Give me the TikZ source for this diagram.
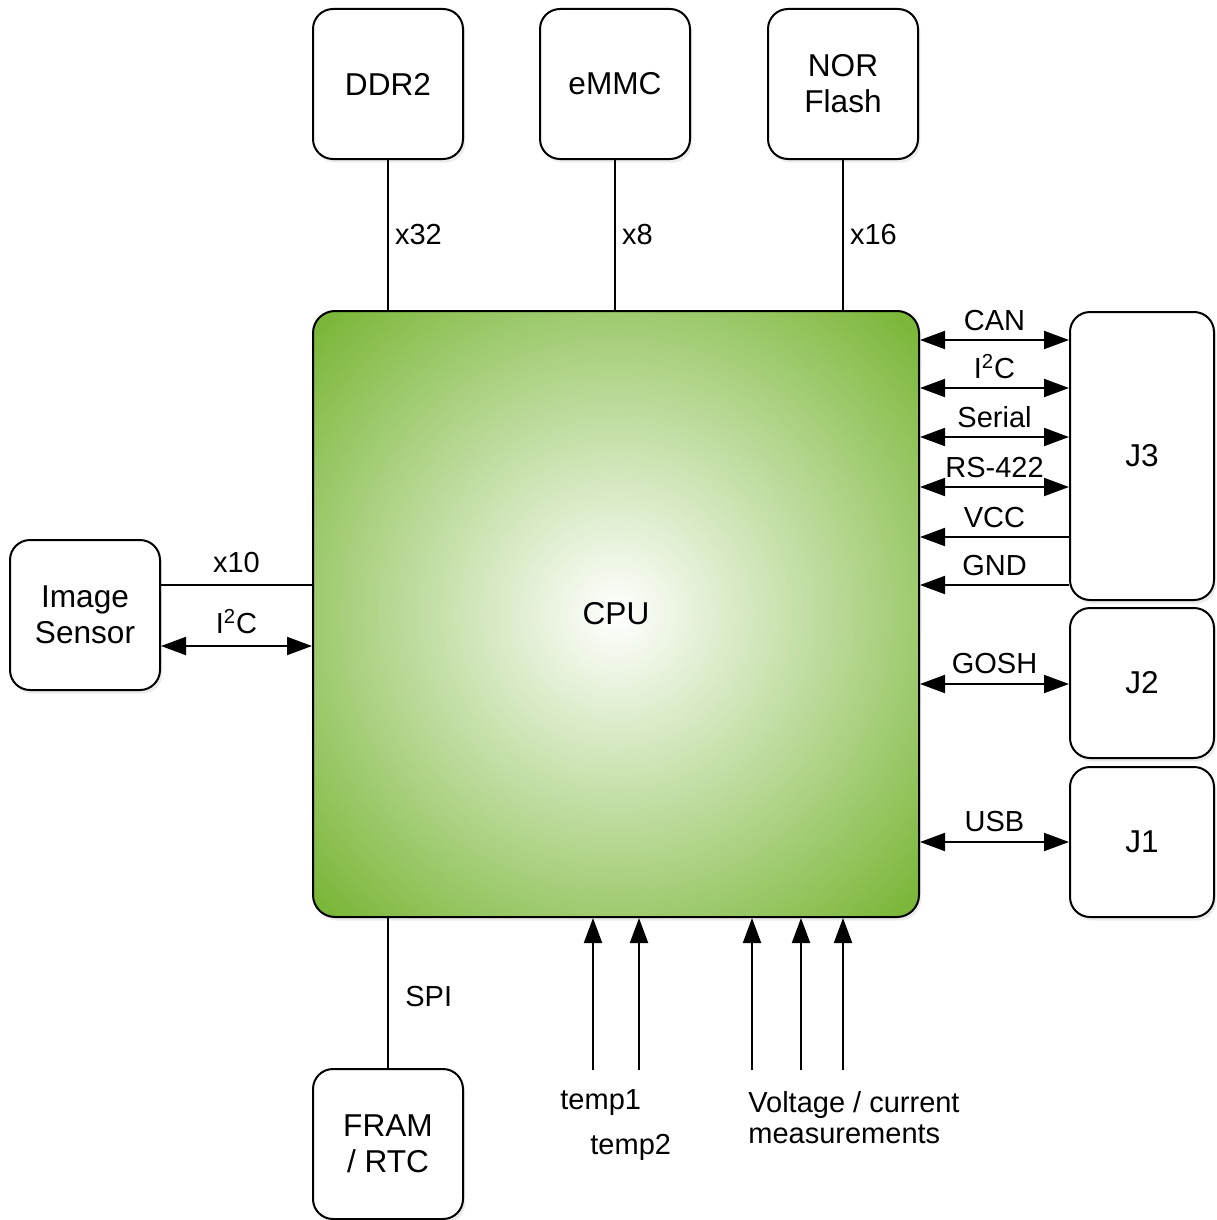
\documentclass[tikz,border=0pt]{standalone}
\usepackage{fontspec}
\setmainfont{Liberation Sans}
\usetikzlibrary{arrows.meta,shadows}
\definecolor{cpugreen}{RGB}{118,180,50}
\pgfdeclareradialshading{cpushade}{\pgfpoint{0bp}{0bp}}{color(0bp)=(white); color(35.4bp)=(cpugreen); color(50bp)=(cpugreen)}
\begin{document}
\begin{tikzpicture}[x=0.5pt,y=-0.5pt,
  box/.style={draw, line width=1pt, rounded corners=10pt, fill=white, align=center,
    inner sep=0pt, font=\fontsize{15.8}{18}\selectfont,
    drop shadow={shadow xshift=1.2pt, shadow yshift=-1.8pt, opacity=0.15}},
  lbl/.style={font=\fontsize{14.5}{15.5}\selectfont, inner sep=0pt},
  wire/.style={line width=1pt},
  arr/.style={wire, -{Triangle[length=12.5pt,width=9pt]}},
  barr/.style={wire, {Triangle[length=12.5pt,width=9pt]}-{Triangle[length=12.5pt,width=9pt]}}
]
\useasboundingbox (0,0) rectangle (1216,1220);

% boxes
\node[box, minimum width=75pt, minimum height=75pt] (ddr) at (388,84) {DDR2};
\node[box, minimum width=75pt, minimum height=75pt] (emmc) at (615,84) {eMMC};
\node[box, minimum width=75pt, minimum height=75pt] (nor) at (843,84) {NOR\\Flash};
\node[box, minimum width=303pt, minimum height=303pt, rounded corners=11pt, shading=cpushade] (cpu) at (616,614) {CPU};
\node[box, minimum width=72pt, minimum height=144pt] (j3) at (1142,456) {J3};
\node[box, minimum width=72pt, minimum height=75pt] (j2) at (1142,683) {J2};
\node[box, minimum width=72pt, minimum height=75pt] (j1) at (1142,842) {J1};
\node[box, minimum width=75pt, minimum height=75pt] (img) at (85,615) {Image\\Sensor};
\node[box, minimum width=75pt, minimum height=75pt] (fram) at (388,1144) {FRAM\\/ RTC};

% top buses
\draw[wire] (ddr.south) -- node[lbl, right=3pt] (lx32) {x32} (ddr.south |- cpu.north);
\draw[wire] (emmc.south) -- node[lbl, right=3pt] (lx8) {x8} (emmc.south |- cpu.north);
\draw[wire] (nor.south) -- node[lbl, right=3pt] (lx16) {x16} (nor.south |- cpu.north);

% image sensor
\draw[wire] (img.east |- 0,585) -- node[lbl, above=5.5pt] (lx10) {x10} (cpu.west |- 0,585);
\draw[barr] (img.east |- 0,646) -- node[lbl, above=5.5pt] (li2ca) {I\textsuperscript{2}C} (cpu.west |- 0,646);

% J3
\draw[barr] (cpu.east |- 0,340) -- node[lbl, above=4pt] (lcan) {CAN} (j3.west |- 0,340);
\draw[barr] (cpu.east |- 0,388) -- node[lbl, above=4pt] (li2cb) {I\textsuperscript{2}C} (j3.west |- 0,388);
\draw[barr] (cpu.east |- 0,437) -- node[lbl, above=4pt] (lser) {Serial} (j3.west |- 0,437);
\draw[barr] (cpu.east |- 0,487) -- node[lbl, above=4pt] (lrs) {RS-422} (j3.west |- 0,487);
\draw[arr] (j3.west |- 0,537) -- node[lbl, above=4pt] (lvcc) {VCC} (cpu.east |- 0,537);
\draw[arr] (j3.west |- 0,585) -- node[lbl, above=4pt] (lgnd) {GND} (cpu.east |- 0,585);

% J2, J1
\draw[barr] (cpu.east |- 0,684) -- node[lbl, above=4.5pt] (lgosh) {GOSH} (j2.west |- 0,684);
\draw[barr] (cpu.east |- 0,842) -- node[lbl, above=4.5pt] (lusb) {USB} (j1.west |- 0,842);

% FRAM
\draw[wire] (fram.north) -- (fram.north |- cpu.south);
\node[lbl, anchor=west] (lspi) at (405,997) {SPI};

% bottom measurement inputs
\coordinate (t1) at (593,1070);
\coordinate (t2) at (639,1070);
\coordinate (v1) at (752,1070);
\coordinate (v2) at (801,1070);
\coordinate (v3) at (843,1070);
\foreach \c in {t1,t2,v1,v2,v3}
  \draw[arr] (\c) -- (\c |- cpu.south);
\node[lbl, anchor=west] (ltemp1) at (560,1103) {temp1};
\node[lbl, anchor=west] (ltemp2) at (590,1147) {temp2};
\node[lbl, anchor=west, align=left] (lvolt) at (748,1118) {Voltage / current\\measurements};
\end{tikzpicture}
\end{document}
